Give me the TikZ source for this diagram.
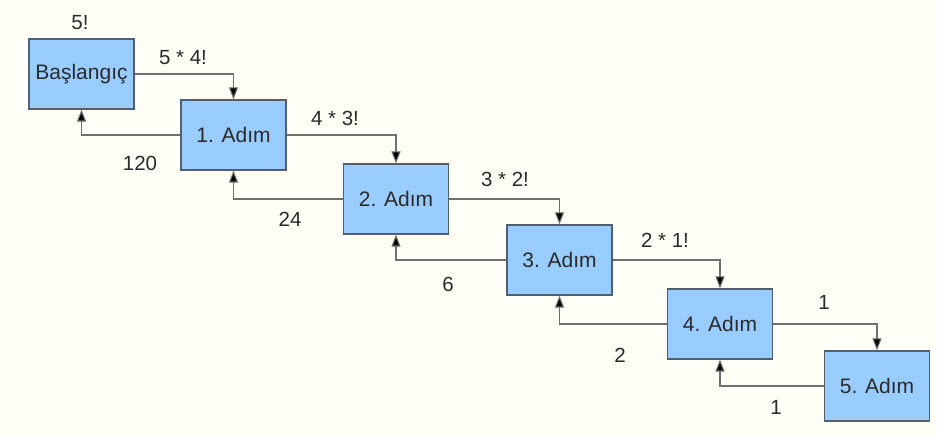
\documentclass[tikz,border=0pt]{standalone}
\usepackage{fontspec}
\setmainfont{Liberation Sans}
\usetikzlibrary{arrows.meta}
\definecolor{bg}{HTML}{FFFEF6}
\definecolor{boxfill}{HTML}{99CCFF}
\definecolor{boxedge}{HTML}{4F6070}
\definecolor{linec}{HTML}{707070}
\definecolor{txt}{HTML}{2A2A2A}
\tikzset{
  stepbox/.style={draw=boxedge, line width=1.2pt, fill=boxfill, minimum width=105pt, minimum height=70pt, inner sep=0pt, text=txt, font=\fontsize{21}{24}\selectfont},
  lbl/.style={text=txt, inner sep=0pt, font=\fontsize{20.5}{24}\selectfont},
  conn/.style={draw=linec, line width=1.1pt, -{Triangle[width=9pt,length=12pt,fill=black]}},
}
\begin{document}
\begin{tikzpicture}[x=1pt,y=-1pt]
\fill[bg] (0,0) rectangle (937,435);
\useasboundingbox (0,0) rectangle (937,435);
\node[stepbox] (b0) at (81.5,74) {Başlangıç};
\node[stepbox] (b1) at (233.5,135) {1. Adım};
\node[stepbox] (b2) at (396,199) {2. Adım};
\node[stepbox] (b3) at (559.5,260) {3. Adım};
\node[stepbox] (b4) at (720,324) {4. Adım};
\node[stepbox] (b5) at (877,386) {5. Adım};
\foreach \a/\b in {b0/b1,b1/b2,b2/b3,b3/b4,b4/b5}{
  \draw[conn] (\a.east) -| (\b.north);
  \draw[conn] (\b.west) -| (\a.south);
}
\node[lbl] (l0) at (80,23) {5!};
\node[lbl] (l1) at (183,58) {5 * 4!};
\node[lbl] (l2) at (140,163) {120};
\node[lbl] (l3) at (335,118) {4 * 3!};
\node[lbl] (l4) at (290,219) {24};
\node[lbl] (l5) at (505,179) {3 * 2!};
\node[lbl] (l6) at (448,284) {6};
\node[lbl] (l7) at (665,240) {2 * 1!};
\node[lbl] (l8) at (620,355) {2};
\node[lbl] (l9) at (824,302) {1};
\node[lbl] (l10) at (776,407) {1};
\end{tikzpicture}
\end{document}
